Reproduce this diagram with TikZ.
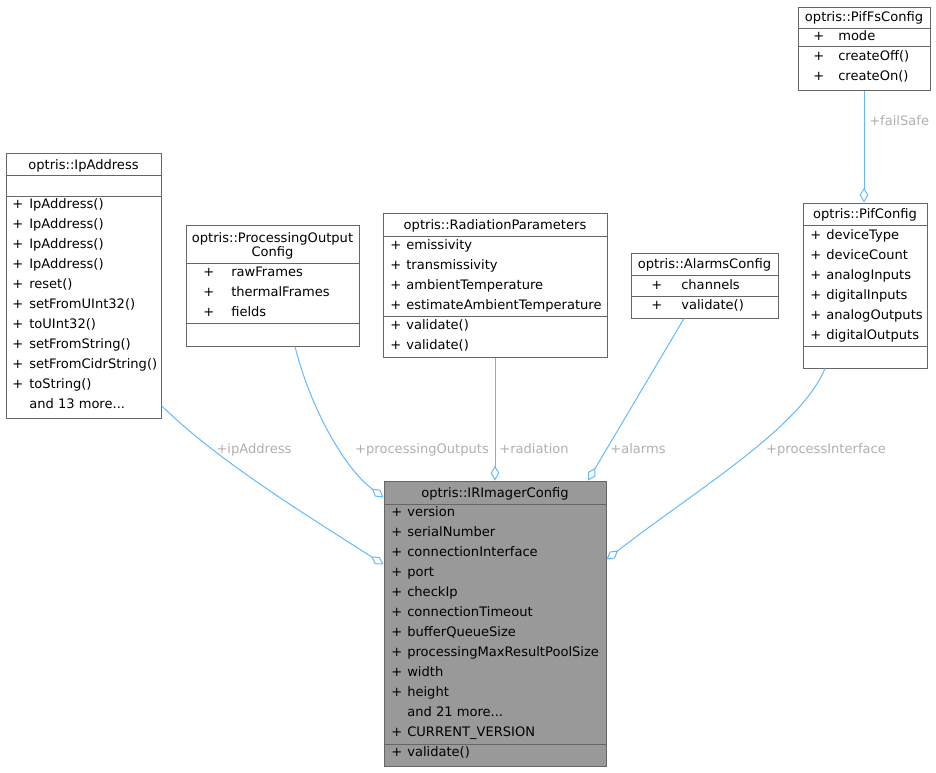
\documentclass[tikz,border=0pt]{standalone}
\usepackage{fontspec}
\setmainfont{DejaVu Sans}
\usetikzlibrary{positioning, calc, arrows.meta, fit}
\definecolor{relblue}{RGB}{99,184,255}
\definecolor{framegray}{RGB}{102,102,102}
\definecolor{labelgray}{RGB}{175,175,175}
\definecolor{focusgray}{RGB}{153,153,153}
\tikzset{
  classbox/.style={draw=framegray, fill=white, inner sep=0pt, line width=0.75pt},
  focusbox/.style={classbox, fill=focusgray},
  sepline/.style={draw=framegray, line width=0.75pt},
  clsname/.style={font=\fontsize{9.8}{11}\selectfont, inner sep=0pt, text height=9pt, text depth=2pt},
  membtxt/.style={clsname, anchor=west},
  relation/.style={draw=relblue, line width=0.75pt,
    -{Diamond[open, length=11pt, width=6.5pt, line width=0.75pt]}},
  rellabel/.style={clsname, text=labelgray}
}

\begin{document}
\begin{tikzpicture}[x=0.75pt, y=-0.75pt]
  \useasboundingbox (0,0) rectangle (936,772);

  % optris::IpAddress
  \node[classbox, fit={(6,153) (161,418)}] (ip) {};
  \node[clsname] (ipname) at (83.5,165) {optris::IpAddress};
  \draw[sepline] (6,175) -- (161,175);
  \draw[sepline] (6,196) -- (161,196);
  \foreach \m [count=\i from 0] in {IpAddress(), IpAddress(), IpAddress(), IpAddress(), reset(),
      setFromUInt32(), toUInt32(), setFromString(), setFromCidrString(), toString()}{
    \node[membtxt] (ipv\i) at (12,204+20*\i) {+};
    \node[membtxt] (ipm\i) at (29,204+20*\i) {\m};
  }
  \node[membtxt] (ipmore) at (29,404) {and 13 more...};

  % optris::ProcessingOutputConfig
  \node[classbox, fit={(186,225) (359,346)}] (poc) {};
  \node[clsname] (pocname) at (272.5,238) {optris::ProcessingOutput};
  \node[clsname] (pocname2) at (272.5,252) {Config};
  \draw[sepline] (186,263) -- (359,263);
  \draw[sepline] (186,323) -- (359,323);
  \foreach \m [count=\i from 0] in {rawFrames, thermalFrames, fields}{
    \node[membtxt] (pocv\i) at (203,272+20*\i) {+};
    \node[membtxt] (pocm\i) at (231,272+20*\i) {\m};
  }

  % optris::RadiationParameters
  \node[classbox, fit={(383,213) (607,357)}] (rad) {};
  \node[clsname] (radname) at (495,225) {optris::RadiationParameters};
  \draw[sepline] (383,236) -- (607,236);
  \draw[sepline] (383,316) -- (607,316);
  \foreach \m [count=\i from 0] in {emissivity, transmissivity, ambientTemperature,
      estimateAmbientTemperature}{
    \node[membtxt] (radv\i) at (390,245+20*\i) {+};
    \node[membtxt] (radm\i) at (406,245+20*\i) {\m};
  }
  \foreach \i in {0,1}{
    \node[membtxt] (radfv\i) at (390,325+20*\i) {+};
    \node[membtxt] (radfm\i) at (406,325+20*\i) {validate()};
  }

  % optris::AlarmsConfig
  \node[classbox, fit={(631,253) (778,318)}] (alarm) {};
  \node[clsname] (alarmname) at (704.5,264) {optris::AlarmsConfig};
  \draw[sepline] (631,275) -- (778,275);
  \draw[sepline] (631,296) -- (778,296);
  \node[membtxt] (alarmv0) at (651,285) {+};
  \node[membtxt] (alarmm0) at (681,285) {channels};
  \node[membtxt] (alarmv1) at (651,305) {+};
  \node[membtxt] (alarmm1) at (681,305) {validate()};

  % optris::PifFsConfig
  \node[classbox, fit={(798,7) (930,90)}] (pifs) {};
  \node[clsname] (pifsname) at (864,17) {optris::PifFsConfig};
  \draw[sepline] (798,28) -- (930,28);
  \draw[sepline] (798,46) -- (930,46);
  \node[membtxt] (pifsv0) at (813,36) {+};
  \node[membtxt] (pifsm0) at (838,36) {mode};
  \node[membtxt] (pifsv1) at (813,56) {+};
  \node[membtxt] (pifsm1) at (838,56) {createOff()};
  \node[membtxt] (pifsv2) at (813,76) {+};
  \node[membtxt] (pifsm2) at (838,76) {createOn()};

  % optris::PifConfig
  \node[classbox, fit={(803,203) (927,368)}] (pif) {};
  \node[clsname] (pifname) at (865,214) {optris::PifConfig};
  \draw[sepline] (803,225) -- (927,225);
  \draw[sepline] (803,346) -- (927,346);
  \foreach \m [count=\i from 0] in {deviceType, deviceCount, analogInputs, digitalInputs,
      analogOutputs, digitalOutputs}{
    \node[membtxt] (pifv\i) at (810,235+20*\i) {+};
    \node[membtxt] (pifm\i) at (826,235+20*\i) {\m};
  }

  % optris::IRImagerConfig
  \node[focusbox, fit={(384,481) (606,766)}] (main) {};
  \node[clsname] (mainname) at (495,493) {optris::IRImagerConfig};
  \draw[sepline] (384,504) -- (606,504);
  \draw[sepline] (384,744) -- (606,744);
  \foreach \m [count=\i from 0] in {version, serialNumber, connectionInterface, port, checkIp,
      connectionTimeout, bufferQueueSize, processingMaxResultPoolSize, width, height}{
    \node[membtxt] (mainv\i) at (391,512+20*\i) {+};
    \node[membtxt] (mainm\i) at (407,512+20*\i) {\m};
  }
  \node[membtxt] (mainmore) at (407,712) {and 21 more...};
  \node[membtxt] (mainv10) at (391,732) {+};
  \node[membtxt] (mainm10) at (407,732) {CURRENT\_VERSION};
  \node[membtxt] (mainv11) at (391,752) {+};
  \node[membtxt] (mainm11) at (407,752) {validate()};

  % relations
  \draw[relation] ($(ip.south east)+(0,-13)$) .. controls +(55,55) and +(-70,-45) .. ($(main.north west)+(0,84)$);
  \draw[relation] ($(poc.south)+(22.5,0)$) .. controls +(15,60) and +(-40,-30) .. ($(main.north west)+(0,17)$);
  \draw[relation] (rad.south) -- (main.north);
  \draw[relation] ($(alarm.south)+(-20.5,0)$) -- ($(main.north)+(93,0)$);
  \draw[relation] ($(pif.south)+(-40,0)$) .. controls +(-25,60) and +(90,-70) .. ($(main.north east)+(0,79)$);
  \draw[relation] (pifs.south) -- (pifs.south |- pif.north);

  \node[rellabel] (lip) at (254,449) {+ipAddress};
  \node[rellabel] (lpoc) at (422,449) {+processingOutputs};
  \node[rellabel] (lrad) at (534,449) {+radiation};
  \node[rellabel] (lalarm) at (638,449) {+alarms};
  \node[rellabel] (lpif) at (826,449) {+processInterface};
  \node[rellabel, anchor=west] (lpifs) at (869,121) {+failSafe};
\end{tikzpicture}
\end{document}
